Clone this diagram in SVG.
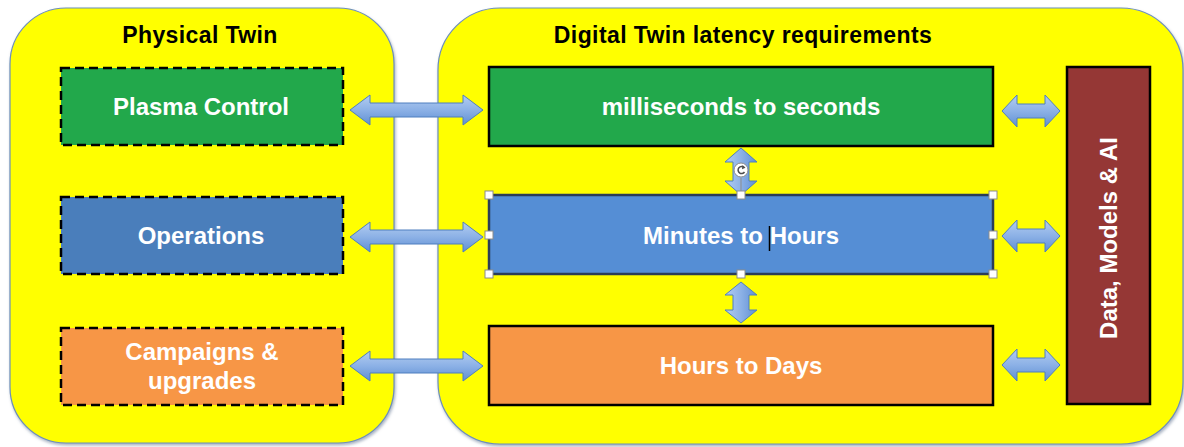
<svg xmlns="http://www.w3.org/2000/svg" width="1184" height="447" viewBox="0 0 1184 447">
<defs>
<linearGradient id="arrGradH" x1="0" y1="0" x2="0" y2="1">
<stop offset="0" stop-color="#b3cdf0"/>
<stop offset="0.5" stop-color="#8cb1e6"/>
<stop offset="1" stop-color="#5f8fd3"/>
</linearGradient>
<linearGradient id="arrGradV" x1="0" y1="0" x2="1" y2="0">
<stop offset="0" stop-color="#b3cdf0"/>
<stop offset="0.5" stop-color="#8cb1e6"/>
<stop offset="1" stop-color="#5f8fd3"/>
</linearGradient>
<filter id="shadow" x="-5%" y="-5%" width="110%" height="110%">
<feDropShadow dx="1" dy="2" stdDeviation="1.5" flood-color="#6d7f99" flood-opacity="0.6"/>
</filter>
</defs>
<style>
.panel{fill:#ffff00;stroke:#6d8fb8;stroke-width:1.2}
.title{font-family:"Liberation Sans",Arial,sans-serif;font-weight:bold;font-size:23px;letter-spacing:0.4px;fill:#000;text-anchor:middle}
.lbl{font-family:"Liberation Sans",Arial,sans-serif;font-weight:bold;font-size:24px;fill:#fff;text-anchor:middle}
.dash{stroke:#000;stroke-width:2.5;stroke-dasharray:9,5}
.solid{stroke:#000;stroke-width:2.5}
.arrH{fill:url(#arrGradH);stroke:#4f7fbf;stroke-width:1}
.arrV{fill:url(#arrGradV);stroke:#4f7fbf;stroke-width:1}
.handle{fill:#fff;stroke:#8c8c8c;stroke-width:1}
</style>
<rect width="1184" height="447" fill="#ffffff"/>

<g id="panel-physical">
<rect class="panel" x="10" y="8" width="384" height="435" rx="56" ry="56" filter="url(#shadow)"/>
<text class="title" x="200" y="43">Physical Twin</text>
</g>
<g id="panel-digital">
<rect class="panel" x="438" y="8" width="745" height="436" rx="62" ry="62" filter="url(#shadow)"/>
<text class="title" x="743" y="43">Digital Twin latency requirements</text>
</g>

<g id="node-plasma">
<rect class="dash" x="61" y="68" width="282" height="77" fill="#22a84b"/>
<text class="lbl" x="201" y="115">Plasma Control</text>
</g>
<g id="node-operations">
<rect class="dash" x="61" y="197" width="282" height="77" fill="#4a7ebb"/>
<text class="lbl" x="201" y="244">Operations</text>
</g>
<g id="node-campaigns">
<rect class="dash" x="61" y="328" width="282" height="77" fill="#f79646"/>
<text class="lbl" x="202" y="360">Campaigns &amp;</text>
<text class="lbl" x="202" y="389">upgrades</text>
</g>

<g id="node-ms">
<rect class="solid" x="489" y="67" width="504" height="79" fill="#22a84b"/>
<text class="lbl" x="741" y="115">milliseconds to seconds</text>
</g>
<g id="node-minutes">
<rect x="489" y="195" width="504" height="79" fill="#558ed5" stroke="#2b3d57" stroke-width="2.5"/>
<text class="lbl" x="741" y="244">Minutes to Hours</text>
<line x1="769.5" y1="226" x2="769.5" y2="251" stroke="#000" stroke-width="1.5"/>
</g>
<g id="node-hours">
<rect class="solid" x="489" y="326" width="504" height="79" fill="#f79646"/>
<text class="lbl" x="741" y="374">Hours to Days</text>
</g>
<g id="node-data">
<rect class="solid" x="1067" y="67" width="83" height="337" fill="#953735"/>
<text class="lbl" transform="translate(1117 238) rotate(-90)" x="0" y="0">Data, Models &amp; AI</text>
</g>

<g id="connectors">
<path class="arrH" d="M350 110 L370 95 L370 103 L463 103 L463 95 L483 110 L463 125 L463 117 L370 117 L370 125 Z"/>
<path class="arrH" d="M350 237 L370 222 L370 230 L463 230 L463 222 L483 237 L463 252 L463 244 L370 244 L370 252 Z"/>
<path class="arrH" d="M350 366 L370 351 L370 359 L463 359 L463 351 L483 366 L463 381 L463 373 L370 373 L370 381 Z"/>
<path class="arrH" d="M1002 111 L1017 95 L1017 104 L1045 104 L1045 95 L1060 111 L1045 127 L1045 118 L1017 118 L1017 127 Z"/>
<path class="arrH" d="M1002 236 L1017 220 L1017 229 L1045 229 L1045 220 L1060 236 L1045 252 L1045 243 L1017 243 L1017 252 Z"/>
<path class="arrH" d="M1002 365 L1017 349 L1017 358 L1045 358 L1045 349 L1060 365 L1045 381 L1045 372 L1017 372 L1017 381 Z"/>
<path class="arrV" d="M741 148 L757 162 L749 162 L749 181 L757 181 L741 195 L725 181 L733 181 L733 162 L725 162 Z"/>
<path class="arrV" d="M741 282 L757 295 L749 295 L749 310 L757 310 L741 323 L725 310 L733 310 L733 295 L725 295 Z"/>
</g>

<g id="selection">
<line x1="741" y1="178" x2="741" y2="195" stroke="#8c8c8c" stroke-width="1"/>
<circle cx="741" cy="170" r="7" fill="#fff" stroke="#8c8c8c" stroke-width="1"/>
<path d="M744 167.5 A3.5 3.5 0 1 0 744.5 172" fill="none" stroke="#4d4d4d" stroke-width="1.5"/>
<path d="M742.5 165 L745.5 167.8 L742 169.2 Z" fill="#4d4d4d"/>
<rect class="handle" x="485" y="191" width="8" height="8"/>
<rect class="handle" x="737" y="191" width="8" height="8"/>
<rect class="handle" x="989" y="191" width="8" height="8"/>
<rect class="handle" x="485" y="231" width="8" height="8"/>
<rect class="handle" x="989" y="231" width="8" height="8"/>
<rect class="handle" x="485" y="270" width="8" height="8"/>
<rect class="handle" x="737" y="270" width="8" height="8"/>
<rect class="handle" x="989" y="270" width="8" height="8"/>
</g>
</svg>
